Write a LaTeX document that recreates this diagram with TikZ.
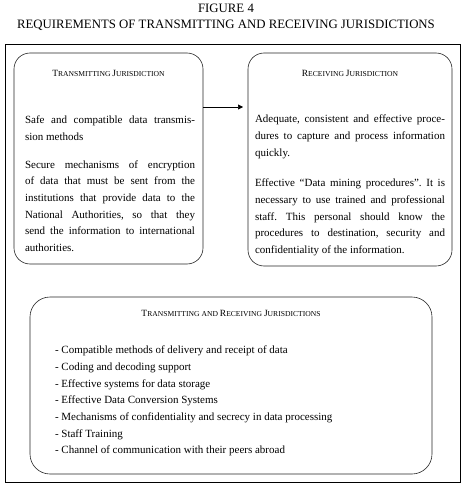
\documentclass[tikz,border=0pt]{standalone}
\usepackage{fontspec}
\setmainfont{Liberation Serif}
\usetikzlibrary{arrows.meta}
\frenchspacing

% versalete falso: letra inicial maior
\newcommand{\scup}[1]{{\fontsize{9.5}{11}\selectfont #1}}

\begin{document}
\begin{tikzpicture}[x=1pt, y=-1pt,
    every node/.style={inner sep=0pt, outer sep=0pt},
    jbox/.style={draw=black!85, line width=0.6pt, rounded corners=16pt, anchor=north west},
    head/.style={font=\fontsize{7.6}{9}\selectfont, anchor=base},
    body/.style={font=\fontsize{11}{16.7}\selectfont, align=justify, anchor=north west}]
    \useasboundingbox (0,0) rectangle (467,487);

    % Título
    \node[font=\fontsize{12.8}{15}\selectfont, anchor=base] (fig) at (226,13) {FIGURE 4};
    \node[font=\fontsize{12.8}{15}\selectfont, anchor=base] (title) at (226,29)
        {REQUIREMENTS OF TRANSMITTING AND RECEIVING JURISDICTIONS};

    % Moldura
    \draw[line width=0.8pt] (5,44) rectangle (460,482);

    % Jurisdição transmissora
    \node[jbox, minimum width=189pt, minimum height=211pt] (tx) at (14,53) {};
    \node[head] (txh) at (tx.north |- 0,77) {\scup{T}RANSMITTING \scup{J}URISDICTION};
    \node[body, text width=170pt] (txt) at (25,116) {%
        Safe and compatible data transmis-\linebreak sion methods\par\vspace{11pt}
        Secure mechanisms of encryption\linebreak of data that must be sent from the\linebreak
        institutions that provide data to the\linebreak National Authorities, so that they\linebreak
        send the information to international\linebreak authorities.};

    % Jurisdição receptora
    \node[jbox, minimum width=204pt, minimum height=213pt] (rx) at (248,53) {};
    \node[head] (rxh) at (rx.north |- 0,77) {\scup{R}ECEIVING \scup{J}URISDICTION};
    \node[body, text width=190pt] (rxt) at (255,115) {%
        Adequate, consistent and effective proce-\linebreak dures to capture and process information\linebreak
        quickly.\par\vspace{14pt}
        Effective ``Data mining procedures''. It is\linebreak necessary to use trained and professional\linebreak
        staff. This personal should know the\linebreak procedures to destination, security and\linebreak
        confidentiality of the information.};

    % Seta
    \coordinate (arr) at (0,107);
    \draw[-{Triangle[length=5pt,width=5pt]}, line width=0.6pt, shorten >=5pt]
        (tx.east |- arr) -- (rx.west |- arr);

    % Ambas as jurisdições
    \node[jbox, minimum width=402pt, minimum height=177pt, rounded corners=20pt] (both) at (30,297) {};
    \node[head] (bh) at (both.north |- 0,316)
        {\scup{T}RANSMITTING AND \scup{R}ECEIVING \scup{J}URISDICTIONS};
    \node[font=\fontsize{11}{16.7}\selectfont, align=left, anchor=north west] (list) at (55,346) {%
        - Compatible methods of delivery and receipt of data\\
        - Coding and decoding support\\
        - Effective systems for data storage\\
        - Effective Data Conversion Systems\\
        - Mechanisms of confidentiality and secrecy in data processing\\
        - Staff Training\\
        - Channel of communication with their peers abroad};
\end{tikzpicture}
\end{document}
